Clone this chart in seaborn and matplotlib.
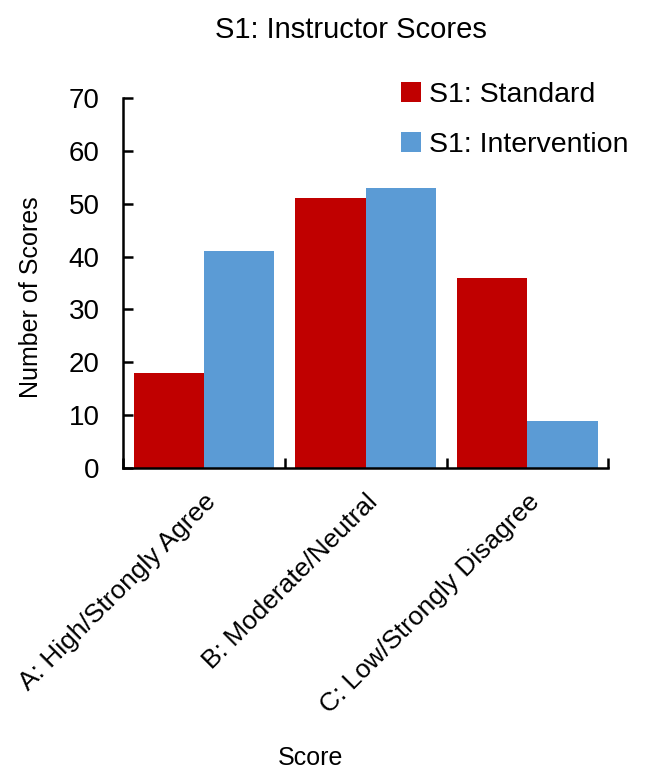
import pandas as pd
import matplotlib
matplotlib.use("Agg")
import matplotlib.pyplot as plt
import seaborn as sns

categories = ["A: High/Strongly Agree", "B: Moderate/Neutral", "C: Low/Strongly Disagree"]
standard = [18, 51, 36]
intervention = [41, 53, 9]
series_names = ["S1: Standard", "S1: Intervention"]
colors = ["#C00000", "#5B9BD5"]


def main():
    sns.set_style("white")
    plt.rcParams["font.family"] = ["Liberation Sans", "DejaVu Sans"]
    plt.rcParams["text.color"] = "black"
    plt.rcParams["axes.labelcolor"] = "black"

    df = pd.DataFrame({
        "Score": categories * 2,
        "Count": standard + intervention,
        "Series": [series_names[0]] * 3 + [series_names[1]] * 3,
    })

    fig, ax = plt.subplots(figsize=(6.49, 7.7), dpi=100)
    fig.subplots_adjust(left=0.19, right=0.937, bottom=0.392, top=0.873)

    sns.barplot(data=df, x="Score", y="Count", hue="Series", order=categories,
                hue_order=series_names, palette=colors, saturation=1,
                width=0.87, linewidth=0, ax=ax)

    ax.set_xlim(-0.5, 2.5)
    ax.set_ylim(0, 70)
    ax.set_yticks(range(0, 71, 10))

    for side in ["top", "right"]:
        ax.spines[side].set_visible(False)
    for side in ["left", "bottom"]:
        ax.spines[side].set_color("black")
        ax.spines[side].set_linewidth(1.8)

    ax.tick_params(axis="y", left=True, direction="in", length=7, width=1.8,
                   labelsize=20, pad=17, color="black", labelcolor="black")
    ax.set_xticks([-0.5, 0.5, 1.5, 2.5], minor=True)
    ax.tick_params(axis="x", which="major", bottom=False, labelsize=19, pad=12,
                   labelcolor="black")
    ax.tick_params(axis="x", which="minor", bottom=True, direction="in",
                   length=7, width=1.8, color="black")
    plt.setp(ax.get_xticklabels(), rotation=45, ha="right", rotation_mode="anchor")

    ax.set_ylabel("Number of Scores", fontsize=18)
    ax.yaxis.set_label_coords(-0.165, 0.462)
    ax.set_xlabel("Score", fontsize=18)
    ax.xaxis.set_label_coords(0.387, -0.749)
    ax.set_title("S1: Instructor Scores", fontsize=21, pad=43, x=0.47)

    ax.legend(loc="upper left", bbox_to_anchor=(0.6, 0.908),
              bbox_transform=fig.transFigure, frameon=False, fontsize=20.5,
              handlelength=0.7, handleheight=0.7, handletextpad=0.3,
              labelspacing=0.85, borderaxespad=0)

    fig.savefig("out.png", dpi=100)


if __name__ == "__main__":
    main()
